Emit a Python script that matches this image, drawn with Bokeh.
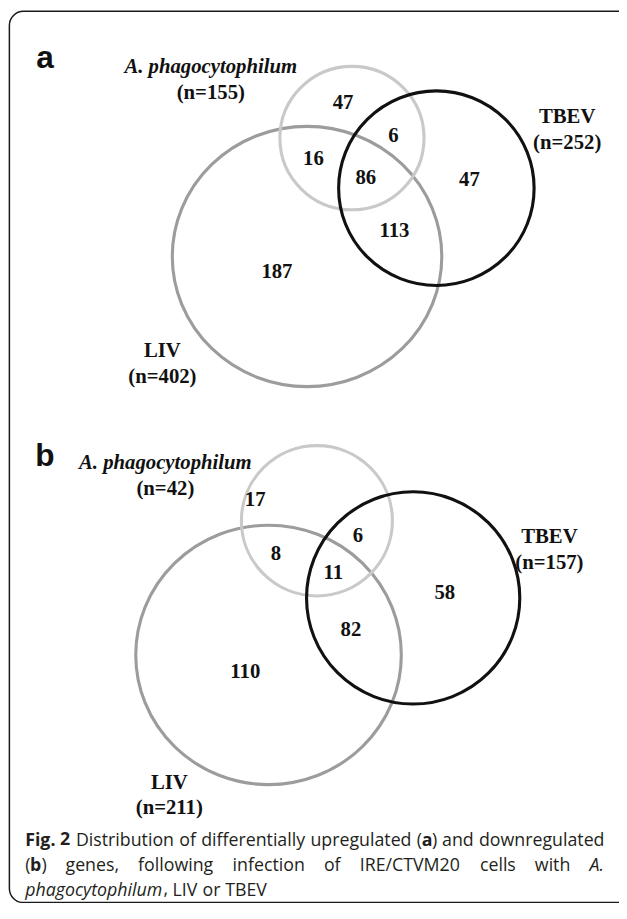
from bokeh.plotting import figure
from bokeh.models import Range1d, ColumnDataSource
from bokeh.core.properties import value
from bokeh.embed import file_html
from bokeh.resources import INLINE

# ---------------- data ----------------
panel_letters = ["a", "b"]
set_names = ["A. phagocytophilum", "TBEV", "LIV"]
totals_a = [155, 252, 402]
totals_b = [42, 157, 211]
# regions: A only, A&TBEV, A&LIV, all three, TBEV only, TBEV&LIV, LIV only
region_keys = ["A", "AT", "AL", "ATL", "T", "TL", "L"]
counts_a = [47, 6, 16, 86, 47, 113, 187]
counts_b = [17, 6, 8, 11, 58, 82, 110]

caption_words = [
    [[("Fig.", "bold")], [("2", "bold")], [("Distribution", "normal")], [("of", "normal")],
     [("differentially", "normal")], [("upregulated", "normal")],
     [("(", "normal"), ("a", "bold"), (")", "normal")], [("and", "normal")], [("downregulated", "normal")]],
    [[("(", "normal"), ("b", "bold"), (")", "normal")], [("genes,", "normal")], [("following", "normal")],
     [("infection", "normal")], [("of", "normal")], [("IRE/CTVM20", "normal")], [("cells", "normal")],
     [("with", "normal")], [("A.", "italic")]],
    [[("phagocytophilum", "italic"), (",", "normal")], [("LIV", "normal")], [("or", "normal")], [("TBEV", "normal")]],
]

# ---------------- layout (reference pixel coordinates) ----------------
REF_W, REF_H = 627, 919
W, H = 619, 903
sx = W / REF_W
p = figure(width=W, height=H, x_range=Range1d(0, REF_W), y_range=Range1d(REF_H, 0),
           output_backend="svg", toolbar_location=None, min_border=0,
           x_axis_type=None, y_axis_type=None, outline_line_color=None)
p.grid.visible = False

def fs(px):
    return "%.2fpx" % (px * sx)

# frame
p.quad(left=[9], right=[680], top=[11], bottom=[918], fill_color=None,
       line_color="#1a1a1a", line_width=1.5, border_radius=14)

circle_colors = ["#c9c9c9", "#111111", "#9c9c9c"]
panels = [
    dict(letter=panel_letters[0], lx=45, ly=57, totals=totals_a, counts=counts_a,
         cx=[356, 441.5, 310.5], cy=[140, 191, 260.5], cw=[146, 198, 273], ch=[146, 198, 265],
         rx=[347, 398, 317, 370, 475, 399, 280], ry=[103, 137, 160, 180, 182, 234, 275],
         nx=[213, 574, 164], ny=[67, 118, 356]),
    dict(letter=panel_letters[1], lx=45, ly=463, totals=totals_b, counts=counts_b,
         cx=[320.5, 418, 271.5], cy=[529.5, 608, 666], cw=[153, 216, 269], ch=[153, 216, 264],
         rx=[258, 362, 279, 337, 450, 355, 248], ry=[507, 544, 562, 582, 602, 640, 682],
         nx=[167, 556, 171], ny=[470, 545, 795]),
]

serif = value("Liberation Serif")
for pn in panels:
    order = [2, 0, 1]
    src = ColumnDataSource(dict(x=[pn["cx"][i] for i in order], y=[pn["cy"][i] for i in order],
                                w=[pn["cw"][i] for i in order], h=[pn["ch"][i] for i in order],
                                c=[circle_colors[i] for i in order]))
    p.ellipse(x="x", y="y", width="w", height="h", source=src, fill_color=None,
              line_color="c", line_width=3.1)
    # region counts
    p.text(x=pn["rx"], y=pn["ry"], text=[str(c) for c in pn["counts"]],
           text_font=serif, text_font_style="bold", text_font_size=fs(21),
           text_align="center", text_baseline="middle", text_color="#111111")
    # set names
    p.text(x=[pn["nx"][0]], y=[pn["ny"][0]], text=[set_names[0]], text_font=serif,
           text_font_style="bold italic", text_font_size=fs(21), text_align="center",
           text_baseline="alphabetic", text_color="#111111")
    p.text(x=pn["nx"][1:], y=pn["ny"][1:], text=set_names[1:], text_font=serif,
           text_font_style="bold", text_font_size=fs(21), text_align="center",
           text_baseline="alphabetic", text_color="#111111")
    p.text(x=pn["nx"], y=[v + 26 for v in pn["ny"]], text=["(n=%d)" % t for t in pn["totals"]],
           text_font=serif, text_font_style="bold", text_font_size=fs(21), text_align="center",
           text_baseline="alphabetic", text_color="#111111")
    # panel letter
    p.text(x=[pn["lx"]], y=[pn["ly"]], text=[pn["letter"]], text_font=value("Liberation Sans"),
           text_font_style="bold", text_font_size=fs(32), text_align="center",
           text_baseline="alphabetic", text_color="#111111")

# ---------------- caption (justified, word by word) ----------------
EM = dict(zip("abcdefghijklmnopqrstuvwxyz",
              [.556, .613, .476, .613, .561, .339, .548, .614, .253, .253, .525, .253, .930,
               .614, .604, .613, .613, .408, .477, .353, .614, .501, .778, .524, .502, .477]))
EM.update({"A": .633, "B": .648, "C": .631, "D": .729, "E": .547, "F": .525, "I": .300,
           "L": .531, "M": .905, "R": .643, "T": .549, "V": .604, "(": .276, ")": .276,
           ",": .250, ".": .266, "/": .367, " ": .260})
for d in "0123456789":
    EM[d] = .572
CAP_SIZE = 18
SPACE = .26 * CAP_SIZE
STYLE_FACTOR = {"normal": 1.0, "bold": 1.05, "italic": 0.955}

def run_w(txt, style):
    return sum(EM.get(ch, .55) for ch in txt) * STYLE_FACTOR[style] * CAP_SIZE

cap_left, cap_right = 25, 612
cap_base = [853, 879, 904]
justify = [True, True, False]
runs = {"normal": dict(x=[], y=[], t=[]), "bold": dict(x=[], y=[], t=[]), "italic": dict(x=[], y=[], t=[])}
for words, yb, just in zip(caption_words, cap_base, justify):
    widths = [sum(run_w(t, s) for t, s in w) for w in words]
    if just:
        gap = (cap_right - cap_left - sum(widths)) / (len(words) - 1)
    else:
        gap = SPACE
    x = cap_left
    for w, ww in zip(words, widths):
        xr = x
        for t, s in w:
            runs[s]["x"].append(xr)
            runs[s]["y"].append(yb)
            runs[s]["t"].append(t)
            xr += run_w(t, s)
        x += ww + gap

for style, r in runs.items():
    p.text(x=r["x"], y=r["y"], text=r["t"], text_font=value("Open Sans"), text_font_style=style,
           text_font_size=fs(CAP_SIZE), text_align="left", text_baseline="alphabetic",
           text_color="#231f20")

open("out.html", "w").write(file_html(p, INLINE))
